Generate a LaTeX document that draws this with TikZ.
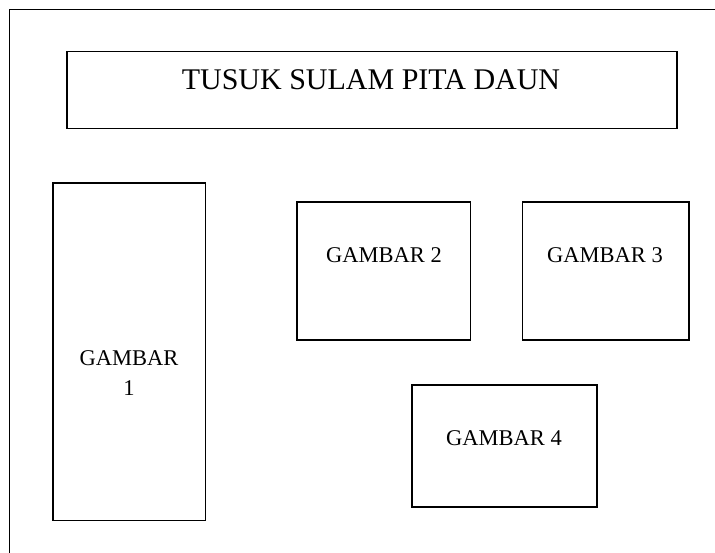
\documentclass[tikz,border=0pt]{standalone}
\usepackage{fontspec}
\setmainfont{Liberation Serif}
\newcommand\pagewidth{715pt}
\newcommand\pageheight{553pt}
\newcommand\framegap{9.5pt}
\newcommand\labelsize{\fontsize{22.5pt}{30pt}\selectfont}

\begin{document}
\begin{tikzpicture}[yscale = -1, line width = 1.7pt]
	\useasboundingbox (0, 0) rectangle (\pagewidth, \pageheight);

	% Rahmen:
	\draw (\framegap, \pageheight+5pt) -- (\framegap, \framegap) -- (\pagewidth+5pt, \framegap);

	% Judul
	\draw (67pt, 51.5pt) rectangle (677pt, 128.5pt);
	\node [anchor = base] (judul) at (371pt, 90pt) {\fontsize{30pt}{36pt}\selectfont TUSUK SULAM PITA DAUN};

	% Kotak gambar
	\foreach \xa/\ya/\xb/\yb in {
		53pt/183pt/205.5pt/520.5pt, 297pt/202pt/470.5pt/340pt,
		522.5pt/202pt/689pt/340pt, 412pt/385pt/597pt/507pt
	} {
		\draw (\xa, \ya) rectangle (\xb, \yb);
	}

	% Beschriftung
	\begin{scope}[anchor = base, font = \labelsize]
		\node [align = center, anchor = center] (gambar1) at (129pt, 373pt) {GAMBAR\\1};
		\node (gambar2) at (384pt, 263pt) {GAMBAR 2};
		\node (gambar3) at (605pt, 263pt) {GAMBAR 3};
		\node (gambar4) at (504pt, 445pt) {GAMBAR 4};
	\end{scope}
\end{tikzpicture}
\end{document}
